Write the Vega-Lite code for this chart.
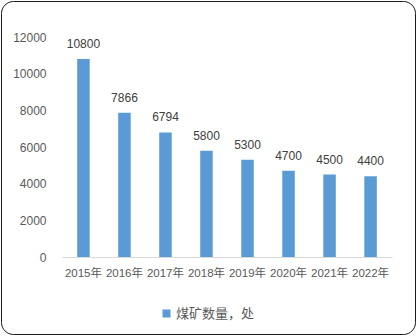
{
  "$schema": "https://vega.github.io/schema/vega-lite/v6.json",
  "width": 414,
  "height": 333,
  "autosize": {"type": "none"},
  "padding": {"left": 1, "top": 1, "right": 2, "bottom": 2},
  "background": "#ffffff",
  "config": {
    "view": {"stroke": "#1a1a1a", "strokeWidth": 1, "cornerRadius": 12},
    "font": "Liberation Sans, 'Noto Sans CJK SC'"
  },
  "data": {
    "values": [
      {"year": "2015年", "count": 10800, "series": "煤矿数量，处"},
      {"year": "2016年", "count": 7866, "series": "煤矿数量，处"},
      {"year": "2017年", "count": 6794, "series": "煤矿数量，处"},
      {"year": "2018年", "count": 5800, "series": "煤矿数量，处"},
      {"year": "2019年", "count": 5300, "series": "煤矿数量，处"},
      {"year": "2020年", "count": 4700, "series": "煤矿数量，处"},
      {"year": "2021年", "count": 4500, "series": "煤矿数量，处"},
      {"year": "2022年", "count": 4400, "series": "煤矿数量，处"}
    ]
  },
  "encoding": {
    "x": {
      "field": "year",
      "type": "nominal",
      "sort": null,
      "scale": {"range": [61, 391], "paddingInner": 0.695, "paddingOuter": 0.37},
      "axis": {
        "title": null,
        "orient": "bottom",
        "offset": -77,
        "labelAngle": 0,
        "ticks": false,
        "tickSize": 0,
        "labelPadding": 10,
        "labelFontSize": 11.5,
        "labelColor": "#595959",
        "domainColor": "#d9d9d9",
        "domainWidth": 1,
        "grid": false
      }
    },
    "y": {
      "field": "count",
      "type": "quantitative",
      "scale": {"domain": [0, 12000], "range": [256, 36], "nice": false, "zero": true},
      "axis": {
        "title": null,
        "orient": "left",
        "offset": -48,
        "values": [0, 2000, 4000, 6000, 8000, 10000, 12000],
        "format": "d",
        "domain": false,
        "ticks": false,
        "tickSize": 0,
        "grid": false,
        "labelPadding": 3,
        "labelFontSize": 12,
        "labelColor": "#595959"
      }
    }
  },
  "layer": [
    {
      "mark": {"type": "bar"},
      "encoding": {
        "color": {
          "field": "series",
          "type": "nominal",
          "scale": {"range": ["#5B9BD5"]},
          "legend": {
            "title": null,
            "orient": "none",
            "legendX": 159,
            "legendY": 306,
            "symbolType": "square",
            "symbolSize": 64,
            "symbolStrokeWidth": 0,
            "labelFontSize": 13,
            "labelColor": "#595959",
            "labelOffset": 3
          }
        }
      }
    },
    {
      "mark": {"type": "text", "baseline": "alphabetic", "dy": -11, "fontSize": 12, "color": "#404040"},
      "encoding": {
        "text": {"field": "count", "type": "quantitative", "format": "d"}
      }
    }
  ]
}
